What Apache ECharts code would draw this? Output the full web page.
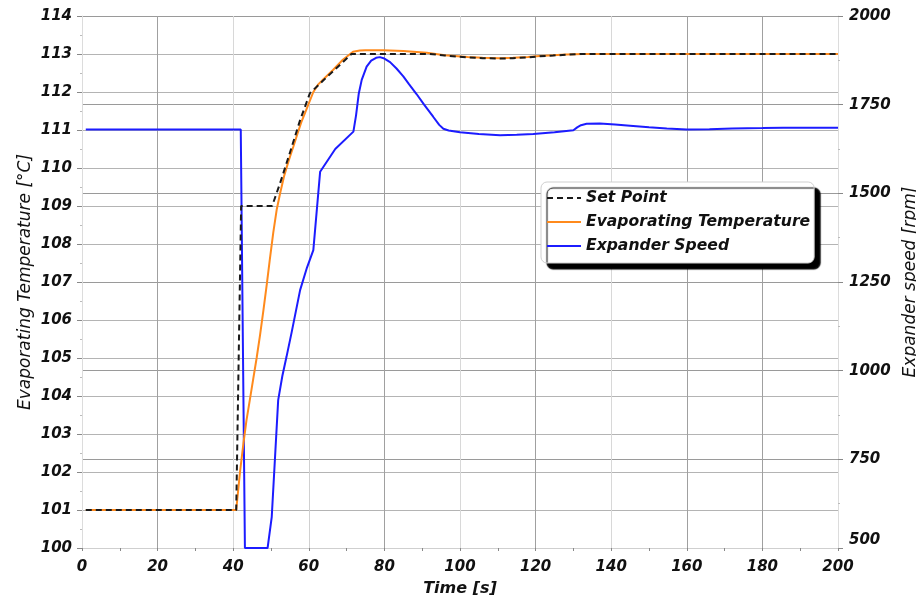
<!DOCTYPE html>
<html>
<head>
<meta charset="utf-8">
<script src="https://cdn.jsdelivr.net/npm/echarts@6/dist/echarts.min.js"></script>
<style>html,body{margin:0;padding:0;background:#fff;}#c{width:916px;height:600px;}</style>
</head>
<body>
<div id="c"></div>
<script>
const spTime = [1, 40.8, 42.1, 50.3, 52.4, 55, 57.7, 60.3, 63.8, 67, 71.3, 92, 96, 102, 106, 110.6, 114, 118, 121, 124.6, 128, 132, 200];
const spVal  = [101, 101, 109, 109, 109.6, 110.4, 111.26, 111.97, 112.3, 112.6, 113, 113, 112.96, 112.91, 112.89, 112.88, 112.89, 112.91, 112.94, 112.96, 112.98, 113, 113];

const evTime = [1, 40.8, 41.3, 41.8, 42.7, 43.5, 44.4, 45.3, 46.2, 47.1, 48, 48.9, 49.7, 50.6, 51.5, 52.4, 53.5, 54.7, 55.9, 57, 58, 59.4, 61.2, 62.5, 64, 66.4, 69, 71.7, 73.5, 75, 79.7, 85, 91.2, 96, 102, 106, 110.6, 114, 118, 121, 124.6, 128, 132.6, 200];
const evVal  = [101, 101, 101.5, 102.0, 102.75, 103.35, 103.9, 104.45, 105.0, 105.6, 106.26, 106.95, 107.6, 108.3, 108.9, 109.33, 109.8, 110.2, 110.56, 110.9, 111.2, 111.55, 112.0, 112.2, 112.35, 112.58, 112.85, 113.06, 113.09, 113.1, 113.1, 113.08, 113.03, 112.97, 112.92, 112.9, 112.89, 112.9, 112.92, 112.95, 112.97, 112.99, 113.0, 113.0];

const exTime = [1, 42, 43.1, 49.1, 50.2, 51.9, 53, 54.1, 55.5, 57.7, 59.5, 61.2, 63, 67, 71.8, 72.5, 73.2, 74, 75.3, 76.5, 77.8, 78.8, 80, 81.5, 83.2, 85, 86.5, 88.5, 90.5, 92.9, 94.5, 95.6, 97, 100, 105, 110.6, 115, 119.4, 125, 130, 131, 132, 133.5, 137, 141, 145.8, 150, 154.7, 160, 166, 172, 180, 185.5, 200];
const exVal  = [1680, 1680, 500, 500, 588, 917, 985, 1039, 1110, 1227, 1290, 1340, 1561, 1625, 1674, 1720, 1780, 1820, 1857, 1874, 1882, 1884, 1880, 1870, 1852, 1830, 1808, 1780, 1750, 1716, 1693, 1682, 1677, 1672, 1667, 1664, 1665, 1667, 1672, 1678, 1686, 1692, 1696, 1697, 1694, 1690, 1686, 1683, 1680, 1681, 1683, 1684, 1685, 1685];

const seriesNames = ['Set Point', 'Evaporating Temperature', 'Expander Speed'];
const xTitle = 'Time [s]';
const yLeftTitle = 'Evaporating Temperature [°C]';
const yRightTitle = 'Expander speed [rpm]';

const zip = (a, b) => a.map((t, i) => [t, b[i]]);
const FONT = '"DejaVu Sans", Verdana, sans-serif';
const lbl = { fontFamily: FONT, fontSize: 15, fontWeight: 'bold', fontStyle: 'italic', color: '#111' };

const chart = echarts.init(document.getElementById('c'), null, { renderer: 'canvas' });
chart.setOption({
  animation: false,
  backgroundColor: '#fff',
  grid: { left: 82, right: 78, top: 16, bottom: 52, containLabel: false, outerBoundsMode: 'none' },
  legend: {
    orient: 'vertical', left: 541, top: 182,
    padding: [8, 4, 9, 5], itemGap: 8, itemWidth: 34, itemHeight: 14,
    backgroundColor: '#fff', borderColor: '#cfcfcf', borderWidth: 1, borderRadius: 6,
    shadowColor: '#000', shadowBlur: 1, shadowOffsetX: 6, shadowOffsetY: 6,
    itemStyle: { opacity: 0 },
    textStyle: { fontFamily: FONT, fontSize: 15.6, fontWeight: 'bold', fontStyle: 'italic', color: '#111', padding: [0, 1, 0, 0] },
    data: seriesNames
  },
  xAxis: {
    type: 'value', min: 0, max: 200, interval: 20,
    name: xTitle, nameLocation: 'middle', nameGap: 33,
    nameTextStyle: { fontFamily: FONT, fontSize: 16, fontWeight: 'bold', fontStyle: 'italic', color: '#111' },
    axisLine: { show: true, lineStyle: { color: '#cfcfcf' } },
    axisTick: { show: true, length: 3, lineStyle: { color: '#888' } },
    minorTick: { show: true, splitNumber: 2, length: 3, lineStyle: { color: '#888' } },
    splitLine: { show: true, lineStyle: { color: ['#a8a8a8', '#a0a0a0', '#d8d8d8', '#d0d0d0', '#a0a0a0', '#d8d8d8', '#a0a0a0', '#d8d8d8', '#a0a0a0', '#a0a0a0', '#d8d8d8'], width: 1 } },
    axisLabel: Object.assign({ margin: 12 }, lbl)
  },
  yAxis: [
    {
      type: 'value', min: 100, max: 114, interval: 1,
      name: yLeftTitle, nameLocation: 'middle', nameGap: 48, nameRotate: 90, nameMoveOverlap: false,
      nameTextStyle: { fontFamily: FONT, fontSize: 17, fontStyle: 'italic', color: '#111' },
      axisLine: { show: true, lineStyle: { color: '#dcdcdc' } },
      axisTick: { show: true, length: 5, lineStyle: { color: '#888' } },
      minorTick: { show: true, splitNumber: 2, length: 2, lineStyle: { color: '#bbb' } },
      splitLine: { show: true, lineStyle: { color: '#b4b4b4', width: 1 } },
      axisLabel: Object.assign({ margin: 10 }, lbl)
    },
    {
      type: 'value', min: 500, max: 2000, interval: 250,
      name: yRightTitle, nameLocation: 'middle', nameGap: 62, nameRotate: 90,
      nameTextStyle: { fontFamily: FONT, fontSize: 17, fontStyle: 'italic', color: '#111' },
      axisLine: { show: true, lineStyle: { color: '#dcdcdc' } },
      axisTick: { show: true, length: 5, lineStyle: { color: '#888' } },
      minorTick: { show: true, splitNumber: 2, length: 2, lineStyle: { color: '#bbb' } },
      splitLine: { show: true, lineStyle: { color: '#9a9a9a', width: 1 } },
      axisLabel: Object.assign({ margin: 11, formatter: v => String(v), verticalAlignMinLabel: 'bottom' }, lbl)
    }
  ],
  series: [
    {
      name: seriesNames[0], type: 'line', yAxisIndex: 0, symbol: 'none', z: 4,
      data: zip(spTime, spVal),
      lineStyle: { color: '#1a1a1a', width: 2, type: [6, 4] }, itemStyle: { color: '#1a1a1a' }
    },
    {
      name: seriesNames[1], type: 'line', yAxisIndex: 0, symbol: 'none', z: 3,
      data: zip(evTime, evVal),
      lineStyle: { color: '#ff8a1c', width: 2 }, itemStyle: { color: '#ff8a1c' }
    },
    {
      name: seriesNames[2], type: 'line', yAxisIndex: 1, symbol: 'none', z: 2,
      data: zip(exTime, exVal),
      lineStyle: { color: '#1c1cff', width: 2 }, itemStyle: { color: '#1c1cff' }
    }
  ]
});
</script>
</body>
</html>
